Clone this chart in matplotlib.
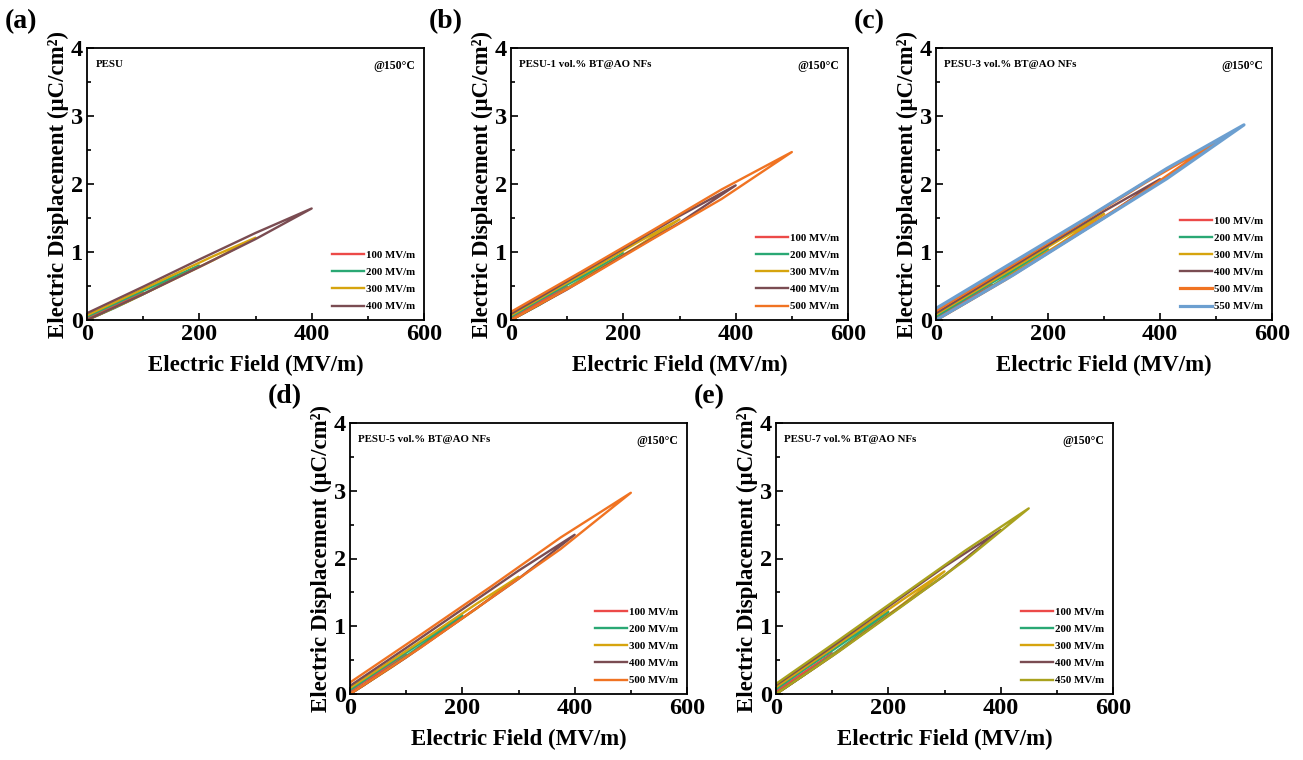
import numpy as np
import matplotlib as mpl
mpl.use("Agg")
import matplotlib.pyplot as plt
from matplotlib.ticker import MultipleLocator

mpl.rcParams['font.family'] = 'Liberation Serif'
mpl.rcParams['font.weight'] = 'bold'

# colours per field (MV/m)
colors = {100: "#EC4A48", 200: "#2AA874", 300: "#D6A40E", 400: "#7A4C52",
          450: "#A9A21E", 500: "#F07322", 550: "#6C9FD0"}

# D values (uC/cm2) read at 0, 1/4, 1/2, 3/4 and 1 of each loop's max field
# charge branch (lower) and discharge branch (upper, listed from E=0 upward)
pesu_fields = [100, 200, 300, 400]
pesu_charge = [[0, 0.09, 0.19, 0.29, 0.40],
               [0, 0.18, 0.38, 0.59, 0.80],
               [0, 0.28, 0.58, 0.88, 1.21],
               [0, 0.38, 0.78, 1.19, 1.64]]
pesu_discharge = [[0.03, 0.12, 0.22, 0.31, 0.40],
                  [0.05, 0.24, 0.43, 0.62, 0.80],
                  [0.07, 0.36, 0.65, 0.94, 1.21],
                  [0.10, 0.49, 0.89, 1.28, 1.64]]

bt1_fields = [100, 200, 300, 400, 500]
bt1_charge = [[0, 0.11, 0.23, 0.36, 0.49],
              [0, 0.22, 0.47, 0.72, 0.98],
              [0, 0.34, 0.71, 1.08, 1.48],
              [0, 0.45, 0.95, 1.43, 1.98],
              [0, 0.57, 1.18, 1.78, 2.47]]
bt1_discharge = [[0.03, 0.15, 0.26, 0.38, 0.49],
                 [0.05, 0.29, 0.52, 0.75, 0.98],
                 [0.07, 0.43, 0.78, 1.14, 1.48],
                 [0.09, 0.57, 1.05, 1.53, 1.98],
                 [0.12, 0.71, 1.31, 1.92, 2.47]]

bt3_fields = [100, 200, 300, 400, 500, 550]
bt3_charge = [[0, 0.12, 0.25, 0.38, 0.52],
              [0, 0.24, 0.50, 0.76, 1.04],
              [0, 0.36, 0.75, 1.14, 1.56],
              [0, 0.48, 0.99, 1.50, 2.07],
              [0, 0.60, 1.25, 1.90, 2.62],
              [0, 0.66, 1.37, 2.08, 2.87]]
bt3_discharge = [[0.03, 0.15, 0.28, 0.40, 0.52],
                 [0.05, 0.30, 0.55, 0.79, 1.04],
                 [0.08, 0.45, 0.82, 1.20, 1.56],
                 [0.10, 0.60, 1.10, 1.60, 2.07],
                 [0.14, 0.76, 1.39, 2.03, 2.62],
                 [0.17, 0.85, 1.53, 2.23, 2.87]]

bt5_fields = [100, 200, 300, 400, 500]
bt5_charge = [[0, 0.13, 0.28, 0.43, 0.58],
              [0, 0.27, 0.56, 0.85, 1.16],
              [0, 0.40, 0.83, 1.26, 1.73],
              [0, 0.54, 1.12, 1.70, 2.35],
              [0, 0.68, 1.41, 2.14, 2.97]]
bt5_discharge = [[0.04, 0.18, 0.31, 0.45, 0.58],
                 [0.06, 0.34, 0.61, 0.89, 1.16],
                 [0.09, 0.50, 0.91, 1.33, 1.73],
                 [0.12, 0.68, 1.25, 1.82, 2.35],
                 [0.17, 0.87, 1.58, 2.31, 2.97]]

bt7_fields = [100, 200, 300, 400, 450]
bt7_charge = [[0, 0.14, 0.29, 0.44, 0.60],
              [0, 0.28, 0.58, 0.89, 1.21],
              [0, 0.42, 0.87, 1.32, 1.81],
              [0, 0.56, 1.16, 1.75, 2.42],
              [0, 0.63, 1.30, 1.98, 2.74]]
bt7_discharge = [[0.04, 0.18, 0.32, 0.46, 0.60],
                 [0.07, 0.36, 0.64, 0.93, 1.21],
                 [0.10, 0.53, 0.96, 1.39, 1.81],
                 [0.13, 0.70, 1.29, 1.88, 2.42],
                 [0.15, 0.80, 1.46, 2.12, 2.74]]

panels = [
    ("(a)", "PESU", pesu_fields, pesu_charge, pesu_discharge, (87, 48, 424, 320)),
    ("(b)", "PESU-1 vol.% BT@AO NFs", bt1_fields, bt1_charge, bt1_discharge, (511, 48, 848, 320)),
    ("(c)", "PESU-3 vol.% BT@AO NFs", bt3_fields, bt3_charge, bt3_discharge, (936, 48, 1272, 320)),
    ("(d)", "PESU-5 vol.% BT@AO NFs", bt5_fields, bt5_charge, bt5_discharge, (350, 423, 687, 694)),
    ("(e)", "PESU-7 vol.% BT@AO NFs", bt7_fields, bt7_charge, bt7_discharge, (776, 423, 1113, 694)),
]

W, H = 1303, 760
fig = plt.figure(figsize=(W / 100, H / 100), dpi=100)

for tag, name, fields, charge, discharge, (l, t, r, b) in panels:
    ax = fig.add_axes([l / W, 1 - b / H, (r - l) / W, (b - t) / H])
    for fld, up, down in zip(fields, charge, discharge):
        e = np.linspace(0, fld, 5)
        lw = 1.7
        if tag == "(c)" and fld >= 500:
            lw = 2.3
        ax.plot(np.concatenate([e, e[::-1]]), np.concatenate([up, down[::-1]]),
                color=colors[fld], lw=lw, label="%d MV/m" % fld)

    ax.set_xlim(0, 600)
    ax.set_ylim(0, 4)
    ax.xaxis.set_major_locator(MultipleLocator(200))
    ax.xaxis.set_minor_locator(MultipleLocator(100))
    ax.yaxis.set_major_locator(MultipleLocator(1))
    ax.yaxis.set_minor_locator(MultipleLocator(0.5))
    ax.tick_params(which="both", direction="in", labelsize=17.5, width=1.2)
    ax.tick_params(which="major", length=5, pad=3)
    ax.tick_params(which="minor", length=3)
    for sp in ax.spines.values():
        sp.set_linewidth(1.3)

    ax.set_xlabel("Electric Field (MV/m)", fontsize=16.5, fontweight="bold", labelpad=7)
    ax.set_ylabel("Electric Displacement (\u03bcC/cm\u00b2)", fontsize=16.5,
                  fontweight="bold", labelpad=1)

    ax.text(0.025, 0.955, name, transform=ax.transAxes, fontsize=7.8,
            fontweight="bold", va="top", ha="left")
    ax.text(0.975, 0.955, "@150\u00b0C", transform=ax.transAxes, fontsize=8.5,
            fontweight="bold", va="top", ha="right")

    ax.legend(loc="lower right", frameon=False, fontsize=7.8,
              handlelength=2.9, handletextpad=0.25, labelspacing=0.7,
              borderaxespad=0.4)

    fig.text((l - 82) / W, 1 - (t - 26) / H, tag, fontsize=20, fontweight="bold",
             va="center", ha="left")

fig.savefig("out.png", dpi=100)
